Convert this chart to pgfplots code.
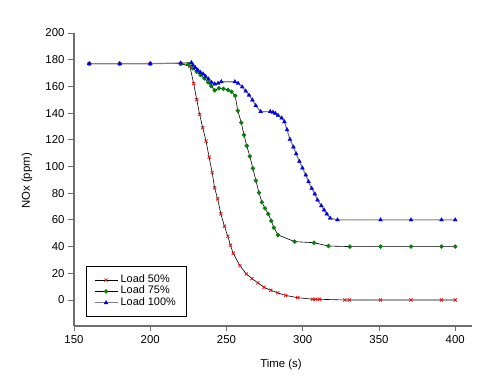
\documentclass[border=0pt]{standalone}
\usepackage{pgfplots}
\pgfplotsset{compat=1.18}
\usepackage{fontspec}
\setmainfont{Liberation Sans}
\definecolor{mred}{RGB}{225,25,25}
\definecolor{mgreen}{RGB}{10,125,10}
\definecolor{mblue}{RGB}{0,0,235}
\definecolor{axgray}{RGB}{110,110,110}
\begin{document}
\begin{tikzpicture}
\path[use as bounding box] (-74pt,-59pt) rectangle (414pt,326pt);
\begin{axis}[
  at={(0,0)}, anchor=south west,
  scale only axis, width=398pt, height=293pt,
  xmin=150, xmax=411, ymin=-19.5, ymax=200,
  axis lines=left, axis line style={-, draw=axgray, line width=1.1pt},
  xtick={150,200,250,300,350,400},
  ytick={0,20,40,60,80,100,120,140,160,180,200},
  tick align=outside, major tick length=5.5pt,
  tick style={draw=axgray, line width=0.9pt},
  ticklabel style={font=\fontsize{11.4pt}{13pt}\selectfont},
  yticklabel style={xshift=-0.5pt},
  xticklabel style={yshift=-1pt},
  /pgf/number format/assume math mode=true,
  xlabel={Time (s)}, ylabel={NOx (ppm)},
  every axis x label/.style={at={(rel axis cs:0.52,0)}, anchor=center, yshift=-39pt, font=\fontsize{11.4pt}{13pt}\selectfont},
  every axis y label/.style={at={(rel axis cs:0,0.495)}, xshift=-47pt, rotate=90, anchor=center, font=\fontsize{11.4pt}{13pt}\selectfont},
  legend style={at={(0.0294,0.032)}, anchor=south west, draw=black, line width=0.5pt,
    font=\fontsize{10.9pt}{11pt}\selectfont, inner xsep=8pt, inner ysep=8pt, row sep=0pt,
    nodes={inner xsep=2.5pt, inner ysep=0pt, text height=8pt, text depth=3.3pt}},
  legend cell align=left,
  legend image code/.code={\draw[#1] (0pt,0pt) -- (23pt,0pt); \draw[#1, mark repeat=2, mark phase=2] plot coordinates {(0pt,0pt) (11.5pt,0pt) (23pt,0pt)};},
]
\addplot[black, line width=0.6pt, mark=x, mark size=2.2pt, mark options={draw=mred, line width=0.8pt}] coordinates {
(160,177) (180,177) (200,177) (220,177) (226,175) (228.5,162) (230.5,150) (232.4,139) (234.4,129) (236.6,119) (238.6,107) (240.6,95.5) (242.2,84) (244.2,75.7) (246.3,64.5) (248.7,55.2) (250.9,47.7) (252.6,41) (254.4,35) (258.8,25.7) (263,19.5) (266.7,16) (270.6,12.8) (274.6,9.5) (279,7.3) (283.6,5.3) (288.8,3.4) (296.8,1.7) (306.3,0.6) (308.5,0.5) (311,0.5) (327.6,0) (330.5,0) (351,0) (371,0) (391,0) (400,0)};
\addlegendentry{Load 50\%}
\addplot[black, line width=0.6pt, mark=*, mark size=1.9pt, mark options={draw=mgreen, fill=mgreen}] coordinates {
(160,177) (180,177) (200,177) (220,177) (225,176.5) (228,173.5) (230.5,171) (233,168.5) (235.5,166) (238,163) (240,160.3) (242.2,157) (245,158.6) (248,158.2) (251,157.3) (253.3,156) (255.7,153) (257.4,141.8) (259.7,132.8) (261.5,123.6) (263.3,115.5) (265.3,107.6) (267.3,98.6) (269.3,89.4) (271.3,80.4) (273.2,73.2) (275.2,68.7) (277.4,64.4) (279.4,59.2) (281.1,54.2) (283.8,48.7) (294.7,43.7) (307.4,42.9) (316.9,40.4) (330.9,40) (351,40) (371,40) (391,40) (400,40)};
\addlegendentry{Load 75\%}
\addplot[draw=gray, line width=1.2pt, mark=triangle*, mark size=2.3pt, mark options={draw=mblue, fill=mblue, line width=0.3pt}] coordinates {
(160,177) (180,177) (200,177) (220,177.5) (227,177.8) (228,176) (229.6,174) (231.1,172.3) (232.9,170.5) (234.7,169.3) (236.3,167.5) (238.2,165.5) (240.2,163) (242.3,161.8) (244.5,162.3) (246.6,163.5) (255.5,163.5) (257.6,162.3) (260.3,159.6) (262.6,156.5) (264.8,153.4) (267,149.8) (269.2,145.6) (272.4,141.1) (278.7,141.1) (280.5,140.6) (282,139.8) (283.8,138.3) (286.2,136.3) (288,133.5) (289.7,127.5) (291.6,120.3) (293.9,114.6) (295.7,109.5) (297.8,103.8) (299.8,98.8) (302,93.6) (303.8,88.6) (305.9,83.6) (307.9,79.4) (309.7,74.9) (312.2,70.6) (314,67.4) (315.8,64.4) (318,61.2) (322.8,60) (351,60) (371,60) (391,60) (400,60)};
\addlegendentry{Load 100\%}
\end{axis}
\end{tikzpicture}
\end{document}
